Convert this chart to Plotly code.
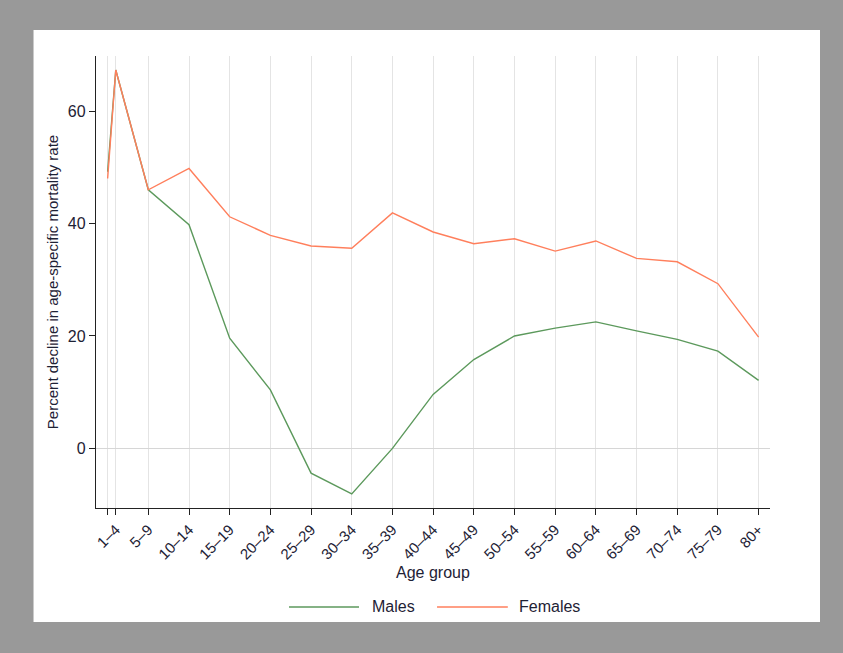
import plotly.graph_objects as go

# Age at start of each group (0 = under 1)
ages = [0, 1, 5, 10, 15, 20, 25, 30, 35, 40, 45, 50, 55, 60, 65, 70, 75, 80]
tick_labels = ["", "1–4", "5–9", "10–14", "15–19", "20–24", "25–29", "30–34",
               "35–39", "40–44", "45–49", "50–54", "55–59", "60–64", "65–69",
               "70–74", "75–79", "80+"]

males = [49.2, 67.3, 46.0, 39.8, 19.6, 10.4, -4.4, -8.1, 0.0, 9.6, 15.8,
         20.0, 21.4, 22.5, 20.9, 19.4, 17.3, 12.1]
females = [48.0, 67.3, 46.0, 49.8, 41.2, 37.9, 36.0, 35.6, 41.9, 38.5, 36.4,
           37.3, 35.1, 36.9, 33.8, 33.2, 29.3, 19.8]

male_color = "#5c995c"
female_color = "#ff7f5c"
text_color = "#1e2235"
font_family = "Liberation Sans, Arial, sans-serif"

fig = go.Figure()
fig.add_trace(go.Scatter(x=ages, y=males, mode="lines", name="Males",
                         line=dict(color=male_color, width=1.4), showlegend=False))
fig.add_trace(go.Scatter(x=ages, y=females, mode="lines", name="Females",
                         line=dict(color=female_color, width=1.4), showlegend=False))

# Figure frame: grey border around a white panel
shapes = [dict(type="rect", xref="paper", yref="paper",
               x0=-0.0927, x1=1.0742, y0=-0.2522, y1=1.0575,
               fillcolor="white", line=dict(width=0), layer="below")]

# Legend drawn below the axis
leg_y = -0.219
for (x0, x1, color) in [(0.2864, 0.3902, male_color),
                        (0.506, 0.611, female_color)]:
    shapes.append(dict(type="line", xref="paper", yref="paper",
                       x0=x0, x1=x1, y0=leg_y, y1=leg_y,
                       line=dict(color=color, width=1.6)))

annotations = [dict(xref="paper", yref="paper", x=xt, y=leg_y, text=name,
                    showarrow=False, xanchor="left", yanchor="middle",
                    font=dict(size=16, color=text_color, family=font_family))
               for xt, name in [(0.406, "Males"), (0.625, "Females")]]

# x-axis title placed just under the rotated tick labels
annotations.append(dict(xref="paper", yref="paper", x=0.5, y=-0.142,
                        text="Age group", showarrow=False,
                        xanchor="center", yanchor="middle",
                        font=dict(size=16, color=text_color, family=font_family)))

fig.update_layout(
    width=843, height=653,
    margin=dict(l=96, r=73, t=56, b=145),
    paper_bgcolor="#999999",
    plot_bgcolor="white",
    font=dict(family=font_family, color=text_color, size=15),
    shapes=shapes,
    annotations=annotations,
    xaxis=dict(
        range=[-1.43, 81.4],
        tickmode="array", tickvals=ages, ticktext=tick_labels,
        tickangle=-45, tickfont=dict(size=15, color=text_color),
        ticks="outside", ticklen=6, tickcolor="#222222", tickwidth=1.3,
        showgrid=True, gridcolor="#e4e4e4", gridwidth=1,
        showline=True, linecolor="#222222", linewidth=1.3,
        zeroline=False,
    ),
    yaxis=dict(
        range=[-10.6, 69.8],
        tickmode="array", tickvals=[0, 20, 40, 60],
        tickfont=dict(size=16, color=text_color),
        ticks="outside", ticklen=6, tickcolor="#222222", tickwidth=1.3,
        showgrid=False,
        zeroline=True, zerolinecolor="#d6d6d6", zerolinewidth=1.3,
        showline=True, linecolor="#222222", linewidth=1.3,
        title=dict(text="Percent decline in age-specific mortality rate",
                   font=dict(size=15, color=text_color), standoff=5),
    ),
)

fig.write_html("out.html")
